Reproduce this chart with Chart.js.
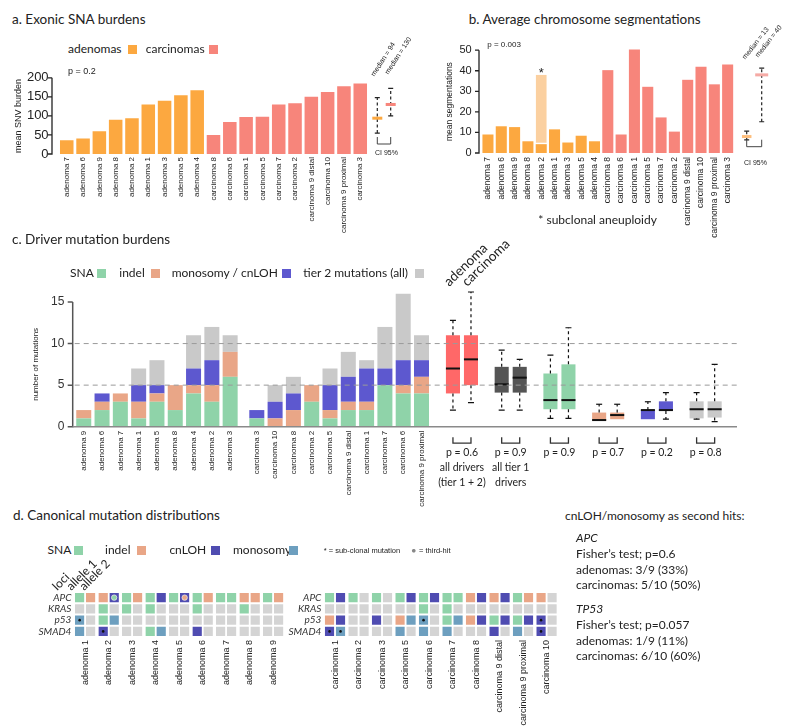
<!DOCTYPE html>
<html>
<head>
<meta charset="utf-8">
<script src="https://cdn.jsdelivr.net/npm/chart.js@4.4.0/dist/chart.umd.min.js"></script>
<style>
  body { margin: 0; background: #fff; }
  #fig { position: relative; width: 800px; height: 728px; overflow: hidden; font-family: Lato, sans-serif; color: #222; }
  #fig canvas { position: absolute; }
  .t { position: absolute; white-space: nowrap; }
  .sq { position: absolute; }
</style>
</head>
<body>
<div id="fig">
  <canvas id="snaChart" width="400" height="184" style="left:0;top:60px"></canvas>
  <canvas id="segChart" width="400" height="209" style="left:400px;top:34px"></canvas>
  <canvas id="drvAdChart" width="800" height="232" style="left:0;top:275px"></canvas>
  <canvas id="drvCaChart" width="800" height="232" style="left:0;top:275px"></canvas>
  <canvas id="boxChart" width="800" height="232" style="left:0;top:275px"></canvas>
  <canvas id="gridAdChart" width="800" height="168" style="left:0;top:560px"></canvas>
  <canvas id="gridCaChart" width="800" height="168" style="left:0;top:560px"></canvas>
</div>
<script>
// ---------- a. exonic SNA burdens
const snaSamples = ['adenoma 7', 'adenoma 6', 'adenoma 9', 'adenoma 8', 'adenoma 2', 'adenoma 1', 'adenoma 3', 'adenoma 5', 'adenoma 4',
  'carcinoma 8', 'carcinoma 6', 'carcinoma 1', 'carcinoma 5', 'carcinoma 7', 'carcinoma 2', 'carcinoma 9 distal', 'carcinoma 10', 'carcinoma 9 proximal', 'carcinoma 3'];
const snaBurden = [36, 41, 60, 90, 94, 130, 140, 154, 167, 50, 84, 97, 98, 130, 133, 150, 163, 178, 185];
const snaTicks = [0, 50, 100, 150, 200];
const snaMedian = [94, 130];
const snaCiLow = [55, 100];
const snaCiHigh = [148, 172];

// ---------- b. chromosome segmentations (same sample order)
const segSamples = snaSamples;
const segClonal = [9.0, 13.0, 12.6, 5.7, 4.3, 11.5, 5.1, 8.4, 5.7, 40.3, 9.0, 50.3, 32.2, 17.3, 10.4, 35.6, 42.0, 33.4, 43.1];
const segSubclonal = [0, 0, 0, 0, 33.7, 0, 0, 0, 0, 0, 0, 0, 0, 0, 0, 0, 0, 0, 0];
const segTicks = [0, 10, 20, 30, 40, 50];
const segMedian = [8, 38];
const segCiLow = [6.4, 15.2];
const segCiHigh = [10.6, 41.3];

// ---------- c. driver mutation burdens
const drvAdenomas = ['adenoma 9', 'adenoma 6', 'adenoma 7', 'adenoma 1', 'adenoma 5', 'adenoma 8', 'adenoma 4', 'adenoma 2', 'adenoma 3'];
const drvAdSNA = [1, 2, 3, 1, 3, 2, 4, 3, 6];
const drvAdIndel = [1, 1, 1, 2, 1, 3, 1, 2, 3];
const drvAdLoss = [0, 1, 0, 2, 1, 0, 2, 3, 0];
const drvAdTier2 = [0, 0, 0, 2, 3, 0, 4, 4, 2];
const drvCarcinomas = ['carcinoma 3', 'carcinoma 10', 'carcinoma 8', 'carcinoma 2', 'carcinoma 5', 'carcinoma 9 distal', 'carcinoma 1', 'carcinoma 7', 'carcinoma 6', 'carcinoma 9 proximal'];
const drvCaSNA = [1, 0, 0, 3, 1, 2, 2, 5, 4, 4];
const drvCaIndel = [0, 1, 2, 2, 1, 1, 1, 0, 1, 2];
const drvCaLoss = [1, 2, 2, 0, 3, 3, 4, 2, 3, 2];
const drvCaTier2 = [0, 2, 2, 0, 2, 3, 1, 5, 8, 3];
const drvTicks = [0, 5, 10, 15];
const drvRefLines = [5, 10];

// boxplots: adenoma vs carcinoma per mutation class
const boxLabels = [['p = 0.6', 'all drivers', '(tier 1 + 2)'], ['p = 0.9', 'all tier 1', 'drivers'], 'p = 0.9', 'p = 0.7', 'p = 0.2', 'p = 0.8'];
const adLow = [2.0, 2.0, 1.0, 0.7, 0.9, 0.9];
const adQ1 = [4.0, 4.1, 2.1, 0.7, 0.9, 1.0];
const adMed = [7.0, 5.1, 3.2, 0.8, 2.0, 2.1];
const adQ3 = [11.0, 7.2, 6.4, 1.7, 2.0, 3.05];
const adHigh = [12.8, 9.2, 8.6, 2.7, 3.0, 4.1];
const caLow = [2.9, 2.0, 1.0, 0.9, 0.9, 0.6];
const caQ1 = [5.0, 4.1, 2.1, 0.9, 1.9, 1.1];
const caMed = [8.1, 5.9, 3.2, 1.4, 2.0, 2.1];
const caQ3 = [11.0, 7.2, 7.5, 1.7, 3.05, 3.05];
const caHigh = [16.2, 8.1, 11.9, 2.7, 4.1, 7.5];

// ---------- d. canonical mutations (S = SNA, I = indel, C = cnLOH, M = monosomy, - = none)
const genes = ['APC', 'KRAS', 'p53', 'SMAD4'];
const gridAdenomas = ['adenoma 1', 'adenoma 2', 'adenoma 3', 'adenoma 4', 'adenoma 5', 'adenoma 6', 'adenoma 7', 'adenoma 8', 'adenoma 9'];
const adAPC = ['SI', 'IC', 'SI', 'SC', 'SC', 'SI', 'SS', 'II', 'SI'];
const adKRAS = ['--', 'S-', 'S-', 'S-', '--', 'S-', '--', 'S-', '--'];
const adP53 = ['M-', 'SM', '--', '--', '--', '--', '--', '--', '--'];
const adSMAD4 = ['M-', 'C-', '--', 'SM', '--', 'C-', '--', '--', '--'];
const adMarks = [['adenoma 1', 'p53', 0, 'sub'], ['adenoma 2', 'APC', 1, 'S'], ['adenoma 2', 'SMAD4', 0, 'sub'], ['adenoma 5', 'APC', 1, 'I']];
const gridCarcinomas = ['carcinoma 1', 'carcinoma 2', 'carcinoma 3', 'carcinoma 5', 'carcinoma 6', 'carcinoma 7', 'carcinoma 8', 'carcinoma 9 distal', 'carcinoma 9 proximal', 'carcinoma 10'];
const caAPC = ['SC', 'S-', 'S-', 'SC', 'SC', 'SS', 'IC', 'IC', 'SI', 'I-'];
const caKRAS = ['--', '--', '--', '--', 'S-', 'S-', '--', '--', '--', '--'];
const caP53 = ['IC', '--', 'C-', 'IM', 'M-', 'SM', 'IC', 'SC', 'SC', 'C-'];
const caSMAD4 = ['CM', '--', '--', 'M-', 'M-', 'M-', '--', 'C-', 'M-', 'C-'];
const caMarks = [['carcinoma 1', 'SMAD4', 0, 'sub'], ['carcinoma 1', 'SMAD4', 1, 'sub'], ['carcinoma 6', 'p53', 0, 'sub'], ['carcinoma 10', 'p53', 0, 'sub'], ['carcinoma 10', 'SMAD4', 0, 'sub']];

// colours
const ADENOMA = '#fca840', ADENOMA_LIGHT = '#fbd0a0', CARCINOMA = '#f7857b';
const SNA = '#8fd3a9', INDEL = '#e9a687', LOSS = '#5d58cf', TIER2 = '#c9c9c9';
const boxColors = ['#ff6868', '#555555', SNA, INDEL, LOSS, TIER2];
const callColors = { S: SNA, I: INDEL, C: '#4f4cb1', M: '#6d9fbf', '-': '#d4d4d4' };

Chart.defaults.font.family = "'Liberation Sans', Arial, sans-serif";
Chart.defaults.color = '#222';
Chart.defaults.animation = false;
Chart.defaults.responsive = false;
Chart.defaults.plugins.legend.display = false;
Chart.defaults.plugins.tooltip.enabled = false;

// fixed axis sizes so the separate canvases line up
const fixW = w => axis => { axis.width = w; };
const fixH = h => axis => { axis.height = h; };
const setTicks = vals => axis => { axis.ticks = vals.map(v => ({ value: v })); };
const noGrid = { display: false, drawTicks: false };
const noBorder = { display: false };

function sampleColor(s) { return s.startsWith('adenoma') ? ADENOMA : CARCINOMA; }

// R style y axis, detached a little from the bars
const rAxis = {
  id: 'rAxis',
  afterDraw(chart, args, o) {
    const { ctx, chartArea: ca, scales: { y } } = chart;
    const vals = y.ticks.map(t => t.value);
    const x0 = ca.left - o.gap;
    ctx.save();
    ctx.strokeStyle = o.color;
    ctx.lineWidth = o.width;
    ctx.beginPath();
    ctx.moveTo(x0, y.getPixelForValue(vals[0]) + o.width / 2);
    ctx.lineTo(x0, y.getPixelForValue(vals[vals.length - 1]));
    vals.forEach(v => {
      const py = y.getPixelForValue(v);
      ctx.moveTo(x0 - o.tick, py);
      ctx.lineTo(x0, py);
    });
    ctx.stroke();
    ctx.restore();
  }
};

// median + 95% CI markers to the right of panels a and b
const ciMarks = {
  id: 'ciMarks',
  afterDraw(chart, args, o) {
    const { ctx, chartArea: ca, scales: { y } } = chart;
    ctx.save();
    o.median.forEach((m, i) => {
      const x = ca.right + o.dx[i];
      const yl = y.getPixelForValue(o.low[i]);
      const yh = y.getPixelForValue(o.high[i]);
      ctx.strokeStyle = '#222';
      ctx.lineWidth = 1.2;
      ctx.setLineDash([3, 2.5]);
      ctx.beginPath(); ctx.moveTo(x, yl); ctx.lineTo(x, yh); ctx.stroke();
      ctx.setLineDash([]);
      ctx.beginPath();
      ctx.moveTo(x - 2.5, yl); ctx.lineTo(x + 2.5, yl);
      ctx.moveTo(x - 2.5, yh); ctx.lineTo(x + 2.5, yh);
      ctx.stroke();
      ctx.fillStyle = o.colors[i];
      ctx.fillRect(x - o.w[i] / 2, y.getPixelForValue(m) - 1.5, o.w[i], 3);
    });
    const bx0 = ca.right + o.dx[0], bx1 = ca.right + o.dx[1], by = ca.bottom - o.bracket;
    ctx.strokeStyle = '#444';
    ctx.lineWidth = 1;
    ctx.beginPath();
    ctx.moveTo(bx0, by - 7); ctx.lineTo(bx0, by); ctx.lineTo(bx1, by); ctx.lineTo(bx1, by - 7);
    ctx.stroke();
    ctx.restore();
  }
};

// asterisk above sub-clonal bar
const starMark = {
  id: 'starMark',
  afterDatasetsDraw(chart) {
    const { ctx } = chart;
    const meta = chart.getDatasetMeta(1);
    ctx.save();
    ctx.fillStyle = '#222';
    ctx.font = "13px 'Liberation Sans'";
    ctx.textAlign = 'center';
    meta.data.forEach((el, i) => {
      if (segSubclonal[i] > 0) ctx.fillText('*', el.x, el.y + 2);
    });
    ctx.restore();
  }
};

// ---------- panel a
new Chart(document.getElementById('snaChart'), {
  type: 'bar',
  data: {
    labels: snaSamples,
    datasets: [{ data: snaBurden, backgroundColor: snaSamples.map(sampleColor), barPercentage: 0.83, categoryPercentage: 1 }]
  },
  options: {
    layout: { padding: { top: 11, right: 31.6, bottom: 0, left: 0 } },
    scales: {
      x: { grid: noGrid, border: noBorder, afterFit: fixH(90),
           ticks: { autoSkip: false, minRotation: 90, maxRotation: 90, padding: 3, font: { size: 8 } } },
      y: { min: 0, max: 200, grid: noGrid, border: noBorder, afterBuildTicks: setTicks(snaTicks), afterFit: fixW(58.6),
           ticks: { padding: 10, font: { size: 13 } },
           title: { display: true, text: 'mean SNV burden', font: { size: 9 }, padding: { top: 12.9, bottom: 0 } } }
    },
    plugins: {
      rAxis: { gap: 6.6, tick: 4, color: '#222', width: 1.3 },
      ciMarks: { median: snaMedian, low: snaCiLow, high: snaCiHigh, dx: [8.9, 22.3], w: [10, 10], colors: [ADENOMA, CARCINOMA], bracket: 10 }
    }
  },
  plugins: [rAxis, ciMarks]
});

// ---------- panel b
new Chart(document.getElementById('segChart'), {
  type: 'bar',
  data: {
    labels: segSamples,
    datasets: [
      { data: segClonal, backgroundColor: segSamples.map(sampleColor), barPercentage: 0.83, categoryPercentage: 1, clip: false },
      { data: segSubclonal, backgroundColor: ADENOMA_LIGHT, borderColor: '#fff', borderWidth: { top: 0, left: 0, right: 0, bottom: 1.5 },
        borderSkipped: false, barPercentage: 0.83, categoryPercentage: 1, clip: false }
    ]
  },
  options: {
    layout: { padding: { top: 10.3, right: 65.7, bottom: 0, left: 0 } },
    scales: {
      x: { stacked: true, grid: noGrid, border: noBorder, afterFit: fixH(90),
           ticks: { autoSkip: false, minRotation: 90, maxRotation: 90, padding: 4, font: { size: 8.5 } } },
      y: { stacked: true, min: 0, max: 50, grid: noGrid, border: noBorder, afterBuildTicks: setTicks(segTicks), afterFit: fixW(81.3),
           ticks: { padding: 9.6, font: { size: 11 } },
           title: { display: true, text: 'mean segmentations', font: { size: 8.5 }, padding: { top: 44.9, bottom: 0 } } }
    },
    plugins: {
      rAxis: { gap: 2.3, tick: 4, color: '#222', width: 1.3 },
      ciMarks: { median: segMedian, low: segCiLow, high: segCiHigh, dx: [12.4, 27.4], w: [9.5, 13], colors: ['#fdbe7d', '#f5aaa5'], bracket: 6.3 }
    }
  },
  plugins: [rAxis, ciMarks, starMark]
});

// ---------- panel c stacked bars
function driverChart(id, labels, sna, indel, loss, tier2, left, right, showAxis) {
  const ds = (data, color) => ({ data, backgroundColor: color, barPercentage: 0.82, categoryPercentage: 1, clip: false });
  return new Chart(document.getElementById(id), {
    type: 'bar',
    data: { labels, datasets: [ds(sna, SNA), ds(indel, INDEL), ds(loss, LOSS), ds(tier2, TIER2)] },
    options: {
      layout: { padding: { top: 27, right: 800 - right, bottom: 0, left: 0 } },
      scales: {
        x: { stacked: true, grid: noGrid, border: noBorder, afterFit: fixH(80.3),
             ticks: { autoSkip: false, minRotation: 90, maxRotation: 90, padding: 4, font: { size: 8 } } },
        y: { stacked: true, min: 0, max: 15, grid: noGrid, border: noBorder, afterBuildTicks: setTicks(drvTicks), afterFit: fixW(left),
             ticks: { display: showAxis, padding: 10.3, color: '#333', font: { size: 12 } },
             title: { display: showAxis, text: 'number of mutations', font: { size: 8 }, padding: { top: 31.2, bottom: 0 } } }
      },
      plugins: { rAxis: showAxis ? { gap: 1.9, tick: 5, color: '#555', width: 1.5 } : false }
    },
    plugins: showAxis ? [rAxis] : []
  });
}
driverChart('drvAdChart', drvAdenomas, drvAdSNA, drvAdIndel, drvAdLoss, drvAdTier2, 74.6, 239.3, true);
driverChart('drvCaChart', drvCarcinomas, drvCaSNA, drvCaIndel, drvCaLoss, drvCaTier2, 247.65, 430.65, false);

// ---------- panel c boxplots
const boxPlot = {
  id: 'boxPlot',
  afterDatasetsDraw(chart) {
    const { ctx, scales: { y } } = chart;
    const stats = [[adLow, adMed, adHigh, adQ1, adQ3], [caLow, caMed, caHigh, caQ1, caQ3]];
    ctx.save();
    stats.forEach((s, d) => {
      const [lo, med, hi, q1, q3] = s;
      chart.getDatasetMeta(d).data.forEach((el, i) => {
        const x = el.x, w = el.width;
        ctx.strokeStyle = '#111';
        ctx.lineWidth = 1.2;
        ctx.setLineDash([3, 3]);
        ctx.beginPath();
        if (hi[i] > q3[i]) { ctx.moveTo(x, y.getPixelForValue(q3[i])); ctx.lineTo(x, y.getPixelForValue(hi[i])); }
        if (lo[i] < q1[i]) { ctx.moveTo(x, y.getPixelForValue(q1[i])); ctx.lineTo(x, y.getPixelForValue(lo[i])); }
        ctx.stroke();
        ctx.setLineDash([]);
        ctx.beginPath();
        if (hi[i] > q3[i]) { const py = y.getPixelForValue(hi[i]); ctx.moveTo(x - 3, py); ctx.lineTo(x + 3, py); }
        if (lo[i] < q1[i]) { const py = y.getPixelForValue(lo[i]); ctx.moveTo(x - 3, py); ctx.lineTo(x + 3, py); }
        ctx.stroke();
        ctx.lineWidth = 2;
        ctx.beginPath();
        const pm = y.getPixelForValue(med[i]);
        ctx.moveTo(x - w / 2, pm); ctx.lineTo(x + w / 2, pm);
        ctx.stroke();
      });
    });
    // brackets joining each pair
    const a = chart.getDatasetMeta(0).data, c = chart.getDatasetMeta(1).data;
    const by = y.getPixelForValue(0) + 16.5;
    ctx.strokeStyle = '#333';
    ctx.lineWidth = 1.3;
    a.forEach((el, i) => {
      ctx.beginPath();
      ctx.moveTo(el.x, by - 6); ctx.lineTo(el.x, by); ctx.lineTo(c[i].x, by); ctx.lineTo(c[i].x, by - 6);
      ctx.stroke();
    });
    ctx.restore();
  },
  afterDraw(chart, args, o) {
    const { ctx, chartArea: ca, scales: { y } } = chart;
    ctx.save();
    ctx.strokeStyle = '#8a8a8a';
    ctx.lineWidth = 1.5;
    const y0 = y.getPixelForValue(0);
    ctx.beginPath(); ctx.moveTo(o.from, y0); ctx.lineTo(ca.right + 7, y0); ctx.stroke();
    ctx.strokeStyle = '#9a9a9a';
    ctx.lineWidth = 1;
    ctx.setLineDash([5, 4]);
    drvRefLines.forEach(v => {
      const py = y.getPixelForValue(v);
      ctx.beginPath(); ctx.moveTo(o.from + 2, py); ctx.lineTo(ca.right + 7, py); ctx.stroke();
    });
    ctx.restore();
  }
};

new Chart(document.getElementById('boxChart'), {
  type: 'bar',
  data: {
    labels: boxLabels,
    datasets: [
      { data: adQ1.map((q, i) => [q, adQ3[i]]), backgroundColor: boxColors, barPercentage: 0.78, categoryPercentage: 0.74, clip: false },
      { data: caQ1.map((q, i) => [q, caQ3[i]]), backgroundColor: boxColors, barPercentage: 0.78, categoryPercentage: 0.74, clip: false }
    ]
  },
  options: {
    layout: { padding: { top: 27, right: 70, bottom: 0, left: 0 } },
    scales: {
      x: { grid: noGrid, border: noBorder, afterFit: fixH(80.3),
           ticks: { autoSkip: false, minRotation: 0, maxRotation: 0, padding: 19, color: '#222',
                    font: { family: 'Lato', size: 10.5, lineHeight: 1.4 } } },
      y: { min: 0, max: 15, grid: noGrid, border: noBorder, ticks: { display: false }, afterFit: fixW(437.6) }
    },
    plugins: { boxPlot: { from: 72.7 } }
  },
  plugins: [boxPlot]
});

// ---------- panel d mutation grids
const gridDots = {
  id: 'gridDots',
  afterDatasetsDraw(chart, args, o) {
    const { ctx } = chart;
    ctx.save();
    o.marks.forEach(([sample, gene, allele, kind]) => {
      const di = chart.data.datasets.findIndex(d => d.gene === gene && d.allele === allele);
      const el = chart.getDatasetMeta(di).data[o.samples.indexOf(sample)];
      const cy = (el.y + el.base) / 2;
      ctx.beginPath();
      if (kind === 'sub') {
        ctx.fillStyle = '#111';
        ctx.arc(el.x, cy, 1.3, 0, Math.PI * 2);
        ctx.fill();
      } else {
        ctx.fillStyle = callColors[kind];
        ctx.strokeStyle = '#e8e8e8';
        ctx.lineWidth = 0.8;
        ctx.arc(el.x, cy, 2.7, 0, Math.PI * 2);
        ctx.fill();
        ctx.stroke();
      }
    });
    ctx.restore();
  }
};

function gridChart(id, samples, rows, marks, left, right) {
  const datasets = [];
  [0, 1].forEach(allele => {
    for (let g = genes.length - 1; g >= 0; g--) {
      datasets.push({
        gene: genes[g], allele, stack: 'allele' + allele,
        data: samples.map(() => 1),
        backgroundColor: rows[g].map(p => callColors[p[allele]]),
        borderColor: '#fff', borderWidth: { top: 1, bottom: 1, left: 0, right: 0 }, borderSkipped: false,
        barPercentage: 0.864, categoryPercentage: 0.936
      });
    }
  });
  return new Chart(document.getElementById(id), {
    type: 'bar',
    data: { labels: samples, datasets },
    options: {
      layout: { padding: { top: 32, right: 800 - right, bottom: 0, left: 0 } },
      scales: {
        x: { stacked: true, grid: noGrid, border: noBorder, afterFit: fixH(91),
             ticks: { autoSkip: false, minRotation: 90, maxRotation: 90, padding: 3, font: { size: 9 } } },
        y: { stacked: true, min: 0, max: 4, grid: noGrid, border: noBorder, afterFit: fixW(left),
             afterBuildTicks: setTicks([0.5, 1.5, 2.5, 3.5]),
             ticks: { padding: 2, color: '#333', font: { family: 'Lato', size: 10, style: 'italic' },
                      callback: v => genes[genes.length - 1 - Math.floor(v)] } }
      },
      plugins: { gridDots: { marks, samples } }
    },
    plugins: [gridDots]
  });
}
gridChart('gridAdChart', gridAdenomas, [adAPC, adKRAS, adP53, adSMAD4], adMarks, 73.4, 284.9);
gridChart('gridCaChart', gridCarcinomas, [caAPC, caKRAS, caP53, caSMAD4], caMarks, 323.3, 558.3);

// ---------- text around the charts
const fig = document.getElementById('fig');
function addText(str, x, y, size, extra) {
  const el = document.createElement('div');
  el.className = 't';
  el.textContent = str;
  el.style.left = x + 'px';
  el.style.top = (y - size * 0.6) + 'px';
  el.style.fontSize = size + 'px';
  el.style.lineHeight = '1.2';
  Object.assign(el.style, extra || {});
  fig.appendChild(el);
  return el;
}
function addRotated(str, x, y, size, deg, extra) {
  const el = addText(str, x, y, size, extra);
  el.style.lineHeight = '1';
  el.style.top = (y - size * 0.8) + 'px';
  el.style.transformOrigin = '0 ' + (size * 0.8) + 'px';
  el.style.transform = 'rotate(' + deg + 'deg)';
  return el;
}
function addSwatch(x, y, color) {
  const el = document.createElement('div');
  el.className = 'sq';
  Object.assign(el.style, { left: x + 'px', top: (y - 4.5) + 'px', width: '9px', height: '9px', background: color });
  fig.appendChild(el);
}
const arial = { fontFamily: "'Liberation Sans', Arial, sans-serif" };

addText('a. Exonic SNA burdens', 12, 18.7, 13.5);
addText('b. Average chromosome segmentations', 468.7, 18.7, 13.5);
addText('c. Driver mutation burdens', 12, 239, 13.5);
addText('d. Canonical mutation distributions', 13, 515.5, 13.5);

addText('adenomas', 68, 49, 12); addSwatch(128, 49, ADENOMA);
addText('carcinomas', 145.7, 49, 12); addSwatch(209.3, 49, CARCINOMA);
addText('p = 0.2', 68, 71, 9, arial);
addText('CI 95%', 375, 152.7, 7, arial);
addRotated('median = 94', 374, 77, 7, -57, arial);
addRotated('median = 130', 388, 75, 7, -57, arial);

addText('p = 0.003', 487.3, 44.7, 8, arial);
addText('CI 95%', 744, 163.3, 7, arial);
addRotated('median = 13', 745, 60, 7, -52, arial);
addRotated('median = 40', 758, 58, 7, -52, arial);
addText('* subclonal aneuploidy', 538.3, 220, 12);

addText('SNA', 70, 273.3, 12); addSwatch(96.7, 273.3, SNA);
addText('indel', 119.3, 273.3, 12); addSwatch(150.7, 273.3, INDEL);
addText('monosomy / cnLOH', 171.7, 273.3, 12); addSwatch(282, 273.3, LOSS);
addText('tier 2 mutations (all)', 303.3, 273.3, 12); addSwatch(415, 273.3, TIER2);
addRotated('adenoma', 449, 287, 13.5, -44);
addRotated('carcinoma', 467, 287, 13.5, -44);

addText('SNA', 47.5, 550, 12); addSwatch(74, 550, callColors.S);
addText('indel', 105, 550, 12); addSwatch(136.7, 550, callColors.I);
addText('cnLOH', 169.4, 550, 12); addSwatch(210.7, 550, callColors.C);
addText('monosomy', 233, 550, 12); addSwatch(288.6, 550, callColors.M);
addText('* = sub-clonal mutation', 323.7, 550, 7.5, arial);
addText('\u25CF', 411.5, 550, 7.5, { color: '#888' });
addText('= third-hit', 419, 550, 7.5, arial);
addRotated('loci', 57, 591, 12, -45);
addRotated('allele 1', 71, 591, 12, -45);
addRotated('allele 2', 84, 591, 12, -45);

addText('cnLOH/monosomy as second hits:', 565, 516, 12);
addText('APC', 576, 538, 12, { fontStyle: 'italic' });
addText('Fisher\u2019s test; p=0.6', 576, 553.7, 12);
addText('adenomas: 3/9 (33%)', 576, 569.7, 12);
addText('carcinomas: 5/10 (50%)', 576, 585, 12);
addText('TP53', 576, 609, 12, { fontStyle: 'italic' });
addText('Fisher\u2019s test; p=0.057', 576, 625, 12);
addText('adenomas: 1/9 (11%)', 576, 641, 12);
addText('carcinomas: 6/10 (60%)', 576, 656, 12);
</script>
</body>
</html>
